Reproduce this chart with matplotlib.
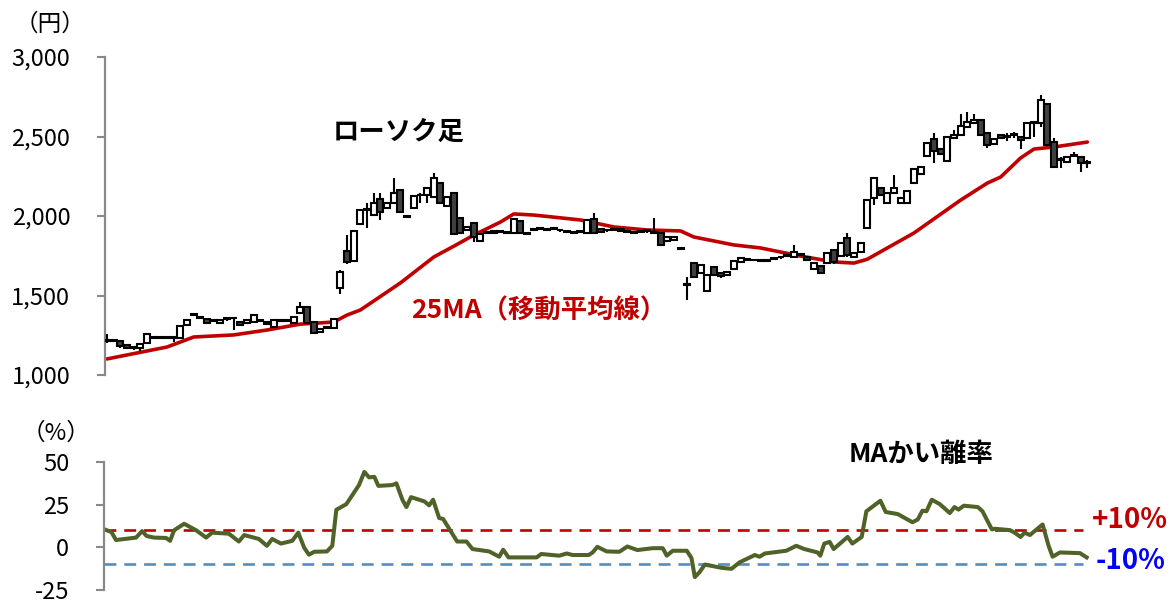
import numpy as np
import matplotlib.pyplot as plt
from matplotlib.ticker import StrMethodFormatter

plt.rcParams['font.family'] = ['Noto Sans CJK JP', 'DejaVu Sans']
plt.rcParams['axes.unicode_minus'] = False

# daily candles (yen)
opens = [1215, 1220, 1212, 1190, 1172, 1172, 1203, 1240, 1236, 1238,
         1236, 1235, 1314, 1382, 1365, 1352, 1342, 1328, 1356, 1358,
         1333, 1330, 1333, 1342, 1335, 1302, 1342, 1341, 1327, 1390,
         1428, 1333, 1270, 1298, 1296, 1550, 1782, 1717, 1950, 2040,
         2006, 2107, 2050, 2082, 2163, 1996, 2050, 2130, 2132, 2120,
         2207, 2063, 2145, 1987, 1912, 1955, 1843, 1890, 1895, 1902,
         1896, 1893, 1968, 1892, 1917, 1920, 1914, 1922, 1912, 1902,
         1897, 1900, 1893, 1980, 1920, 1912, 1917, 1905, 1902, 1897,
         1898, 1907, 1897, 1893, 1843, 1850, 1797, 1568, 1704, 1642,
         1528, 1679, 1642, 1629, 1667, 1711, 1727, 1724, 1722, 1720,
         1732, 1742, 1752, 1742, 1757, 1740, 1667, 1686, 1704, 1786,
         1748, 1862, 1742, 1774, 1924, 2113, 2176, 2082, 2145, 2082,
         2082, 2207, 2264, 2377, 2484, 2421, 2346, 2490, 2509, 2560,
         2585, 2604, 2522, 2453, 2509, 2502, 2512, 2497, 2490, 2587,
         2585, 2704, 2465, 2353, 2340, 2378, 2371, 2334]
closes = [1212, 1212, 1180, 1172, 1170, 1195, 1258, 1232, 1230, 1232,
          1234, 1308, 1346, 1378, 1356, 1330, 1339, 1346, 1354, 1356,
          1314, 1345, 1377, 1339, 1320, 1346, 1339, 1338, 1365, 1428,
          1327, 1264, 1289, 1304, 1352, 1650, 1713, 1907, 2038, 2044,
          2082, 2027, 2082, 2145, 2027, 1992, 2126, 2134, 2176, 2239,
          2082, 2120, 1887, 1893, 1930, 1870, 1887, 1900, 1905, 1899,
          1893, 1981, 1893, 1889, 1914, 1917, 1911, 1919, 1909, 1899,
          1894, 1906, 1975, 1893, 1900, 1909, 1914, 1920, 1899, 1894,
          1903, 1904, 1894, 1818, 1868, 1865, 1794, 1565, 1616, 1692,
          1629, 1629, 1620, 1648, 1717, 1736, 1724, 1721, 1719, 1717,
          1729, 1739, 1749, 1774, 1754, 1725, 1704, 1642, 1767, 1711,
          1830, 1755, 1767, 1830, 2100, 2239, 2132, 2145, 2176, 2113,
          2157, 2296, 2308, 2459, 2409, 2390, 2497, 2509, 2566, 2591,
          2604, 2509, 2446, 2484, 2490, 2499, 2509, 2478, 2585, 2584,
          2730, 2446, 2308, 2351, 2371, 2376, 2333, 2332]
highs = [1258, 1228, 1218, 1195, 1180, 1200, 1262, 1246, 1240, 1244,
         1240, 1312, 1350, 1390, 1372, 1358, 1350, 1352, 1362, 1366,
         1340, 1350, 1382, 1348, 1342, 1352, 1350, 1347, 1370, 1459,
         1432, 1338, 1294, 1310, 1358, 1660, 1880, 1915, 2045, 2080,
         2145, 2145, 2090, 2239, 2168, 2005, 2132, 2145, 2182, 2270,
         2212, 2126, 2150, 1992, 1936, 1960, 1893, 1906, 1912, 1910,
         1904, 1988, 1974, 1900, 1926, 1928, 1922, 1930, 1920, 1910,
         1905, 1914, 1982, 2018, 1926, 1920, 1925, 1926, 1910, 1905,
         1910, 1915, 1987, 1898, 1874, 1870, 1805, 1616, 1710, 1698,
         1634, 1684, 1648, 1654, 1722, 1742, 1734, 1730, 1728, 1726,
         1738, 1748, 1758, 1818, 1764, 1746, 1710, 1692, 1772, 1792,
         1836, 1893, 1774, 1836, 2106, 2245, 2182, 2150, 2258, 2118,
         2162, 2302, 2314, 2465, 2520, 2426, 2502, 2540, 2640, 2654,
         2640, 2610, 2528, 2490, 2515, 2520, 2530, 2503, 2591, 2592,
         2761, 2710, 2490, 2370, 2380, 2400, 2376, 2355]
lows = [1200, 1205, 1172, 1165, 1160, 1151, 1198, 1226, 1225, 1228,
        1208, 1230, 1310, 1372, 1350, 1325, 1332, 1322, 1340, 1283,
        1308, 1325, 1328, 1334, 1315, 1296, 1334, 1332, 1322, 1385,
        1320, 1258, 1265, 1292, 1290, 1510, 1700, 1712, 1945, 1925,
        2000, 1975, 2045, 2075, 2020, 1985, 2044, 2082, 2082, 2115,
        2076, 2058, 1880, 1888, 1906, 1836, 1838, 1884, 1888, 1892,
        1886, 1888, 1886, 1882, 1906, 1910, 1904, 1912, 1902, 1892,
        1887, 1894, 1888, 1886, 1894, 1902, 1906, 1898, 1892, 1887,
        1890, 1896, 1887, 1812, 1838, 1845, 1786, 1472, 1610, 1636,
        1522, 1622, 1612, 1624, 1662, 1706, 1716, 1714, 1712, 1710,
        1722, 1732, 1742, 1736, 1746, 1718, 1660, 1636, 1698, 1700,
        1742, 1740, 1736, 1768, 1918, 2069, 2126, 2076, 2140, 2076,
        2076, 2200, 2258, 2370, 2333, 2384, 2340, 2484, 2503, 2554,
        2578, 2503, 2430, 2446, 2484, 2470, 2490, 2420, 2484, 2500,
        2560, 2440, 2302, 2300, 2334, 2370, 2277, 2300]

# 25-day moving average (day, yen)
ma_day = [0, 9, 13, 19, 24, 29, 34, 36, 38, 44, 49, 52, 55, 59, 61, 64, 71,
          76, 81, 86, 88, 94, 98, 104, 109, 112, 114, 121, 128, 132, 134,
          137, 139, 142, 147]
ma_val = [1101, 1176, 1239, 1252, 1283, 1320, 1333, 1377, 1409, 1579, 1742,
          1810, 1880, 1962, 2013, 2006, 1975, 1931, 1912, 1906, 1868, 1818,
          1799, 1748, 1711, 1704, 1728, 1893, 2100, 2207, 2245, 2365, 2421,
          2434, 2465]

# deviation from MA (day, %)
dev_day = [-0.5, 0.8, 1.5, 4.5, 5.4, 6.1, 7.2, 9.0, 9.6, 10.2, 11.7, 13.5,
           15.0, 15.9, 18.4, 19.9, 20.7, 22.9, 24.1, 24.9, 26.2, 27.9, 28.8,
           29.7, 30.4, 31.2, 33.1, 33.9, 34.5, 36.0, 37.9, 38.7, 39.4, 40.2,
           40.8, 42.9, 43.5, 44.4, 45.0, 45.7, 47.7, 48.4, 49.0, 49.9, 50.5,
           52.6, 54.0, 54.9, 57.4, 58.9, 59.5, 60.3, 64.5, 65.2, 67.9, 69.0,
           69.9, 72.3, 72.9, 73.6, 75.0, 76.9, 78.1, 79.6, 81.9, 83.4, 84.0,
           84.9, 87.0, 87.7, 88.2, 88.9, 89.7, 92.2, 93.7, 94.9, 97.2, 97.9,
           98.7, 101.9, 103.4, 104.6, 106.6, 107.0, 107.6, 108.4, 109.0,
           111.1, 111.8, 113.2, 113.9, 116.0, 116.8, 118.6, 120.8, 121.6,
           122.3, 122.9, 123.7, 124.9, 126.4, 127.1, 127.7, 128.5, 130.6,
           131.3, 132.7, 133.1, 135.4, 136.1, 137.0, 137.6, 138.4, 140.3,
           141.2, 141.8, 142.9, 145.9, 146.9]
dev_val = [10.9, 9.0, 4.3, 5.7, 9.5, 6.6, 5.7, 5.5, 3.8, 10.0, 13.8, 10.0,
           5.7, 8.6, 8.0, 3.4, 7.2, 4.9, 0.9, 4.9, 2.2, 3.8, 8.6, -0.3, -4.3,
           -2.6, -2.4, 0.9, 22.0, 25.3, 36.5, 44.2, 41.0, 41.3, 36.0, 36.5,
           37.5, 27.9, 23.6, 29.4, 26.9, 24.6, 27.9, 17.2, 16.6, 3.4, 3.4,
           -1.0, -2.4, -5.5, -1.4, -5.9, -5.9, -3.9, -4.9, -3.6, -4.5, -4.5,
           -3.0, 0.3, -2.4, -2.6, 0.5, -1.6, -0.5, -0.5, -4.9, -2.0, -2.0,
           -6.2, -17.4, -14.6, -10.1, -12.0, -12.6, -8.8, -4.5, -5.5, -3.6,
           -2.0, 0.9, -1.0, -3.0, -4.9, 2.2, 3.2, -1.0, 6.1, 2.2, 6.1, 21.1,
           27.3, 20.7, 19.5, 14.7, 16.3, 21.5, 21.1, 27.9, 25.3, 20.1, 23.6,
           22.1, 24.4, 23.6, 21.1, 10.5, 10.9, 10.1, 8.6, 6.1, 8.6, 7.2,
           13.4, 0.9, -5.5, -3.0, -3.4, -5.9]

W, H = 1174, 601
fig = plt.figure(figsize=(W / 100, H / 100), dpi=100)


def box(x0, y0, x1, y1):
    # pixel box (top-left origin) -> figure fraction rect
    return [x0 / W, 1 - y1 / H, (x1 - x0) / W, (y1 - y0) / H]


ax1 = fig.add_axes(box(105, 57, 1092, 375))
ax2 = fig.add_axes(box(104, 462, 1092, 590))

gray = '#898989'
for ax in (ax1, ax2):
    for s in ('top', 'right', 'bottom'):
        ax.spines[s].set_visible(False)
    ax.spines['left'].set_color(gray)
    ax.spines['left'].set_linewidth(1.6)
    ax.tick_params(axis='y', length=6, width=1.5, color=gray, pad=19,
                   labelsize=17, labelcolor='black')
    ax.set_xticks([])
    ax.set_xlim(-0.3, 147.7)
    ax.patch.set_alpha(0)

# candles
o = np.array(opens)
c = np.array(closes)
days = np.arange(len(o))
bottoms = np.minimum(o, c)
heights = np.maximum(np.abs(c - o), 5)
fills = np.where(c >= o, 'white', '#404040')
ax1.plot(ma_day, ma_val, color='#c00000', lw=2.6, zorder=2,
         solid_capstyle='round')
ax1.vlines(days, lows, highs, color='black', lw=1.5, zorder=3)
ax1.bar(days, heights, bottom=bottoms, width=0.9, color=fills,
        edgecolor='black', linewidth=1.5, zorder=4)
ax1.set_ylim(1000, 3000)
ax1.set_yticks([1000, 1500, 2000, 2500, 3000])
ax1.yaxis.set_major_formatter(StrMethodFormatter('{x:,.0f}'))

# deviation panel
ax2.hlines(10, -0.3, 146.3, colors='#c00000', lw=1.9,
           linestyles=(0, (4.5, 3)), zorder=1)
ax2.hlines(-10, -0.3, 146.3, colors='#5a8ac6', lw=1.9,
           linestyles=(0, (4.5, 3)), zorder=1)
ax2.plot(dev_day, dev_val, color='#4f6228', lw=2.9, zorder=2,
         solid_joinstyle='round')
ax2.set_ylim(-25, 50)
ax2.set_yticks([-25, 0, 25, 50])

# labels
def ftext(px, py, s, **kw):
    fig.text(px / W, 1 - py / H, s, ha='center', va='center', **kw)


ftext(50, 24, '（円）', fontsize=17)
ftext(56, 433, '（%）', fontsize=17)
ftext(399, 132, 'ローソク足', fontsize=19, fontweight='bold')
ftext(539, 311, '25MA（移動平均線）', fontsize=19, fontweight='bold',
      color='#c00000')
ftext(921, 455, 'MAかい離率', fontsize=19, fontweight='bold')
ftext(1130, 520, '+10%', fontsize=20, fontweight='bold', color='#c00000')
ftext(1131, 561, '-10%', fontsize=20, fontweight='bold', color='#0000ff')

fig.savefig('out.png', dpi=100)
